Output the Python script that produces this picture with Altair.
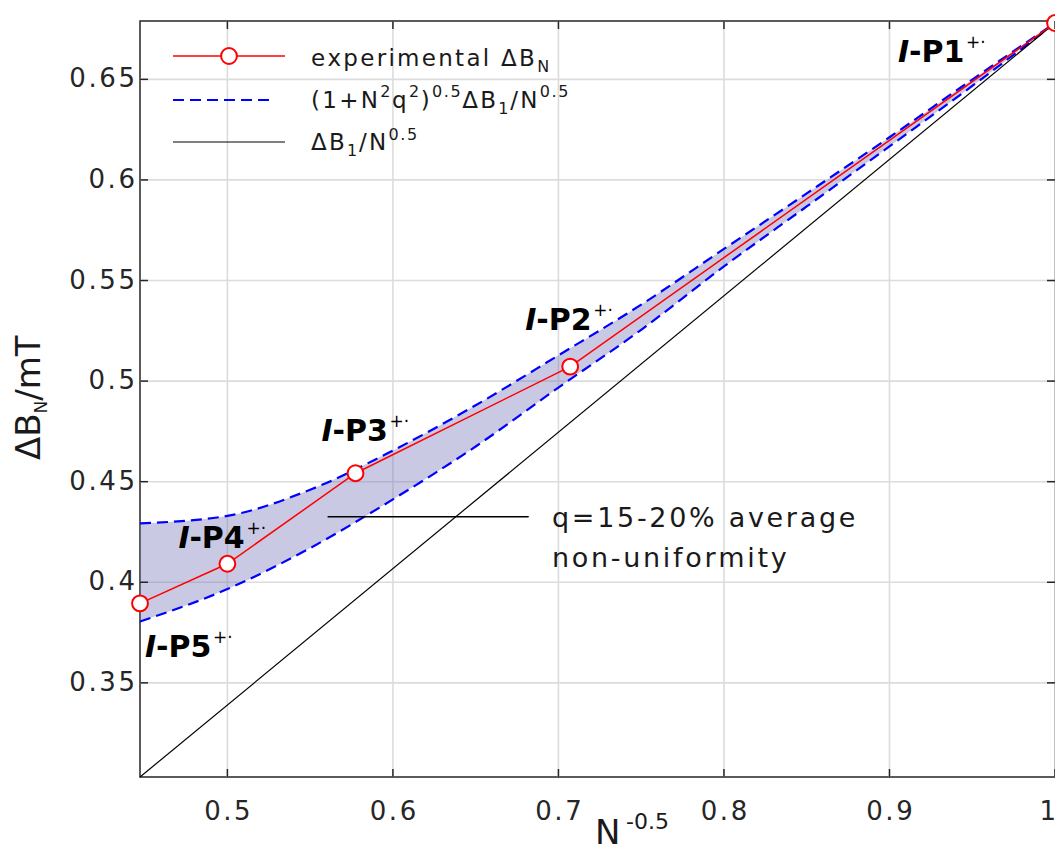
import altair as alt
import pandas as pd

# ---------------- data ----------------
labels_pt = ["P1", "P2", "P3", "P4", "P5"]
x_exp = [1.0, 0.7071, 0.5774, 0.5, 0.4472]          # N^-0.5
y_exp = [0.678, 0.5072, 0.4542, 0.4092, 0.3895]      # experimental dB_N (mT)

x_band = [0.4472, 0.5, 0.55, 0.6, 0.65, 0.7, 0.75, 0.8, 0.85, 0.9, 0.95, 1.0]
y_upper = [0.4293, 0.4330, 0.4460, 0.4655, 0.4880, 0.5128, 0.5380, 0.5657, 0.5933, 0.6212, 0.6499, 0.6780]
y_lower = [0.3805, 0.3966, 0.4170, 0.4412, 0.4675, 0.4968, 0.5255, 0.5570, 0.5868, 0.6167, 0.6467, 0.6780]

x_lin = [0.4472, 1.0]
y_lin = [0.3032, 0.678]

x_ticks = [0.5, 0.6, 0.7, 0.8, 0.9, 1.0]
x_tick_labels = ["0.5", "0.6", "0.7", "0.8", "0.9", "1"]
y_ticks = [0.35, 0.4, 0.45, 0.5, 0.55, 0.6, 0.65]
y_tick_labels = ["0.35", "0.4", "0.45", "0.5", "0.55", "0.6", "0.65"]

# ---------------- layout / style ----------------
W, H = 915, 756
FONT = "DejaVu Sans"
HAIR, THIN = "\u200a", "\u2009"
SPW = {HAIR: 0.1, THIN: 0.2, "": 0.0}
TXT = "#1a1a1a"
AX = "#262626"

WR = {c: 0.636 for c in "0123456789"}
WR.update({".": 0.318, " ": 0.318, "(": 0.390, ")": 0.390, "+": 0.838, "=": 0.838,
           "-": 0.361, "%": 0.950, "/": 0.337, "\u0394": 0.684, "B": 0.686, "N": 0.748,
           "T": 0.611, "\u00b7": 0.318,
           "a": 0.613, "b": 0.635, "c": 0.550, "d": 0.635, "e": 0.615, "f": 0.352,
           "g": 0.635, "h": 0.634, "i": 0.278, "j": 0.278, "k": 0.579, "l": 0.278,
           "m": 0.974, "n": 0.634, "o": 0.612, "p": 0.635, "q": 0.635, "r": 0.411,
           "s": 0.521, "t": 0.392, "u": 0.634, "v": 0.592, "w": 0.818, "x": 0.592,
           "y": 0.592, "z": 0.525})

xs = alt.Scale(domain=[0.4472, 1.0], nice=False, zero=False)
ys = alt.Scale(domain=[0.3032, 0.679], nice=False, zero=False)
one = pd.DataFrame({"k": [0]})


def spaced(s, sp):
    return sp.join(list(s)) if sp else s


def width(s, size, sp=""):
    return sum(WR.get(c, 0.6) for c in s) * size + max(len(s) - 1, 0) * SPW[sp] * size


def txt(x, y, s, size, weight="normal", style="normal", align="left",
        baseline="alphabetic", angle=0, color=TXT):
    kw = dict(text=s, fontSize=size, font=FONT, fontWeight=weight, fontStyle=style,
              align=align, baseline=baseline, color=color)
    if angle:
        kw["angle"] = angle
    return alt.Chart(one).mark_text(**kw).encode(x=alt.value(x), y=alt.value(y))


def rich(x0, y0, parts, sp="", angle=0, color=TXT):
    out, cur = [], 0.0
    for s, size, shift in parts:
        if angle == 0:
            x, y = x0 + cur, y0 + shift
        else:
            x, y = x0 + shift, y0 - cur
        out.append(txt(x, y, spaced(s, sp), size, angle=angle, color=color))
        cur += width(s, size, sp) + SPW[sp] * size
    return out


X = lambda f: alt.X(f, type="quantitative", scale=xs, axis=None)
Y = lambda f: alt.Y(f, type="quantitative", scale=ys, axis=None)

df_exp = pd.DataFrame({"x": x_exp, "y": y_exp, "name": labels_pt})
df_band = pd.DataFrame({"x": x_band, "upper": y_upper, "lower": y_lower})
df_curves = pd.concat([
    pd.DataFrame({"x": x_band, "y": y_upper, "curve": "upper"}),
    pd.DataFrame({"x": x_band, "y": y_lower, "curve": "lower"}),
])
df_lin = pd.DataFrame({"x": x_lin, "y": y_lin})
df_xt = pd.DataFrame({"v": x_ticks, "lab": [spaced(s, HAIR) for s in x_tick_labels]})
df_yt = pd.DataFrame({"v": y_ticks, "lab": [spaced(s, HAIR) for s in y_tick_labels]})
df_xt_in = df_xt.iloc[:-1]
df_xt_last = df_xt.iloc[-1:]

layers = []

# grid
layers.append(alt.Chart(df_xt).mark_rule(color="#dcdcdc", strokeWidth=1.6).encode(
    x=X("v"), y=alt.value(0), y2=alt.value(H)))
layers.append(alt.Chart(df_yt).mark_rule(color="#dcdcdc", strokeWidth=1.6).encode(
    y=Y("v"), x=alt.value(0), x2=alt.value(W)))

# band
layers.append(alt.Chart(df_band).mark_area(color="#7070b8", opacity=0.38,
                                           interpolate="monotone").encode(
    x=X("x"), y=Y("upper"), y2="lower"))
# dashed curves
layers.append(alt.Chart(df_curves).mark_line(color="#0000ff", strokeWidth=2.2,
                                             strokeDash=[11, 6], interpolate="monotone").encode(
    x=X("x"), y=Y("y"), detail="curve:N"))
# black line
layers.append(alt.Chart(df_lin).mark_line(color="black", strokeWidth=1.2).encode(
    x=X("x"), y=Y("y")))
# experimental
layers.append(alt.Chart(df_exp).mark_line(color="#ff0000", strokeWidth=1.5).encode(
    x=X("x"), y=Y("y"), order="x:Q"))
layers.append(alt.Chart(df_exp).mark_point(shape="circle", filled=True, fill="white",
                                           stroke="#ff0000", strokeWidth=2, size=250,
                                           opacity=1).encode(x=X("x"), y=Y("y")))

# inward ticks on all four sides
layers.append(alt.Chart(df_xt).mark_rule(color=AX, strokeWidth=1.5).encode(
    x=X("v"), y=alt.value(H), y2=alt.value(H - 8)))
layers.append(alt.Chart(df_xt).mark_rule(color=AX, strokeWidth=1.5).encode(
    x=X("v"), y=alt.value(0), y2=alt.value(8)))
layers.append(alt.Chart(df_yt).mark_rule(color=AX, strokeWidth=1.5).encode(
    y=Y("v"), x=alt.value(0), x2=alt.value(8)))
layers.append(alt.Chart(df_yt).mark_rule(color=AX, strokeWidth=1.5).encode(
    y=Y("v"), x=alt.value(W), x2=alt.value(W - 8)))

# tick labels
layers.append(alt.Chart(df_xt_in).mark_text(font=FONT, fontSize=26, color=AX, align="center",
                                            baseline="alphabetic").encode(
    x=X("v"), y=alt.value(799), text="lab:N"))
layers.append(alt.Chart(df_xt_last).mark_text(font=FONT, fontSize=26, color=AX, align="right",
                                              baseline="alphabetic", dx=1).encode(
    x=X("v"), y=alt.value(799), text="lab:N"))
layers.append(alt.Chart(df_yt).mark_text(font=FONT, fontSize=26, color=AX, align="right",
                                         baseline="middle").encode(
    y=Y("v"), x=alt.value(-5), text="lab:N"))

# point labels  (I-Pn +.)
offsets = {"P1": (-157, 39), "P2": (-45, -37), "P3": (-34, -32), "P4": (-49, -16), "P5": (5, 54)}
for name in labels_pt:
    dx, dy = offsets[name]
    d = df_exp[df_exp["name"] == name]
    base = alt.Chart(d)
    layers.append(base.mark_text(text="I", font=FONT, fontSize=30, fontWeight="bold",
                                 fontStyle="italic", align="left", baseline="alphabetic",
                                 color="black", dx=dx, dy=dy).encode(x=X("x"), y=Y("y")))
    layers.append(base.mark_text(text="-" + name, font=FONT, fontSize=30, fontWeight="bold",
                                 align="left", baseline="alphabetic", color="black",
                                 dx=dx + 11, dy=dy).encode(x=X("x"), y=Y("y")))
    layers.append(base.mark_text(text="+\u00b7", font=FONT, fontSize=17, align="left",
                                 baseline="alphabetic", color="black",
                                 dx=dx + 68, dy=dy - 14).encode(x=X("x"), y=Y("y")))

# annotation
layers.append(alt.Chart(one).mark_rule(color="black", strokeWidth=1.5).encode(
    x=alt.value(187.6), x2=alt.value(388.7), y=alt.value(495.7)))
layers.append(txt(412, 506, spaced("q=15-20% average", HAIR), 27))
layers.append(txt(412, 546, spaced("non-uniformity", HAIR), 27))

# legend
layers.append(alt.Chart(one).mark_rule(color="#ff0000", strokeWidth=1.5).encode(
    x=alt.value(33), x2=alt.value(145), y=alt.value(35)))
layers.append(alt.Chart(one).mark_point(shape="circle", filled=True, fill="white",
                                        stroke="#ff0000", strokeWidth=2, size=250,
                                        opacity=1).encode(x=alt.value(89), y=alt.value(35)))
layers.append(alt.Chart(one).mark_rule(color="#0000ff", strokeWidth=2.2, strokeDash=[11, 6]).encode(
    x=alt.value(33), x2=alt.value(135), y=alt.value(79)))
layers.append(alt.Chart(one).mark_rule(color="black", strokeWidth=1.2).encode(
    x=alt.value(33), x2=alt.value(145), y=alt.value(121)))

layers += rich(171, 45, [("experimental \u0394B", 23, 0), ("N", 16, 6)], sp=HAIR)
layers += rich(171, 87, [("(1+N", 23, 0), ("2", 16, -11), ("q", 23, 0), ("2", 16, -11),
                         (")", 23, 0), ("0.5", 16, -11), ("\u0394B", 23, 0), ("1", 16, 6),
                         ("/N", 23, 0), ("0.5", 16, -11)], sp=HAIR)
layers += rich(171, 129, [("\u0394B", 23, 0), ("1", 16, 6), ("/N", 23, 0), ("0.5", 16, -10)],
               sp=HAIR)

# axis titles
layers.append(txt(455, 823, "N", 34))
layers.append(txt(486, 808, "-0.5", 22))
layers += rich(-100, 439, [("\u0394B", 34, 0), ("N", 17, 7), ("/mT", 34, 0)], angle=270)

chart = alt.layer(*layers).properties(
    width=W, height=H,
    padding={"left": 132, "top": 13, "right": 0, "bottom": 77},
    autosize=alt.AutoSizeParams(type="none"),
).configure_view(stroke=AX, strokeWidth=1.5)

chart.save("out.html", embed_options={"renderer": "svg", "actions": False})
